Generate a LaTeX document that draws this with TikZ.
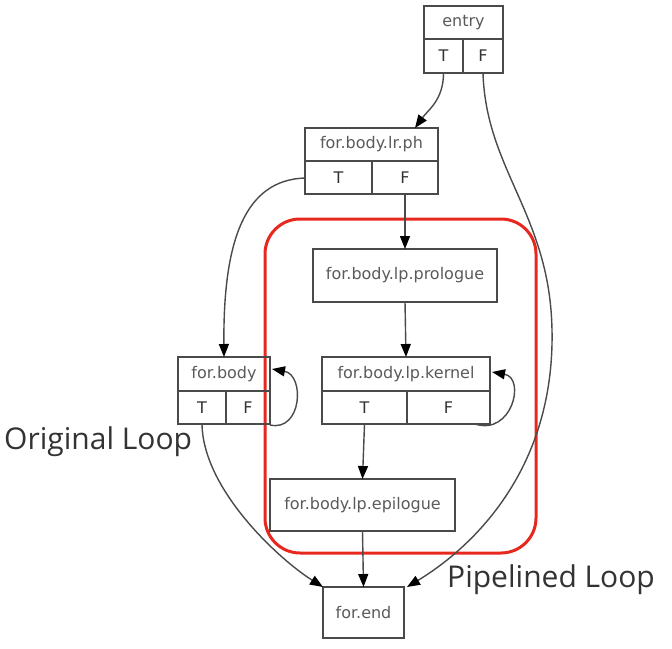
\documentclass[tikz,border=0pt]{standalone}
\usepackage{fontspec}
\setmainfont{DejaVu Sans}
\newfontfamily\labelfont{Open Sans}
\usetikzlibrary{arrows.meta}
\definecolor{boxgray}{HTML}{4A4A4A}
\definecolor{txtgray}{HTML}{5A5A5A}
\definecolor{tfgray}{HTML}{333333}
\definecolor{loopred}{HTML}{E8281E}
\definecolor{lbl}{HTML}{333333}
\begin{document}
\begin{tikzpicture}[x=1pt,y=-1pt,
  cell/.style={draw=boxgray,line width=1.6pt,rectangle,inner sep=0pt,outer sep=0pt,
     font=\fontsize{16}{17}\selectfont,text=txtgray},
  tf/.style={cell,text=tfgray},
  edge/.style={draw=boxgray,line width=1.4pt,-{Triangle[length=13pt,width=10pt,color=black,fill=black]}},
  looplabel/.style={font=\labelfont\fontsize{30}{32}\selectfont,text=lbl,inner sep=0pt,anchor=west}]
\useasboundingbox (0,0) rectangle (672,648);
% red region
\draw[loopred,line width=3pt,rounded corners=35pt] (265,219) rectangle (536,553);
% entry
\node[cell,minimum width=79pt,minimum height=33pt] (entry) at (463.5,22.5) {entry};
\node[tf,minimum width=39pt,minimum height=34pt] (entryT) at (443.5,56) {T};
\node[tf,minimum width=40pt,minimum height=34pt] (entryF) at (483,56) {F};
% for.body.lr.ph
\node[cell,minimum width=133pt,minimum height=33pt] (lrph) at (371.5,144.5) {for.body.lr.ph};
\node[tf,minimum width=67pt,minimum height=33pt] (lrphT) at (338.5,177.5) {T};
\node[tf,minimum width=66pt,minimum height=33pt] (lrphF) at (405,177.5) {F};
% prologue
\node[cell,minimum width=184pt,minimum height=53pt] (pro) at (405,275.5) {for.body.lp.prologue};
% for.body
\node[cell,minimum width=92pt,minimum height=34pt] (body) at (224,374) {for.body};
\node[tf,minimum width=48pt,minimum height=33pt] (bodyT) at (202,407.5) {T};
\node[tf,minimum width=44pt,minimum height=33pt] (bodyF) at (248,407.5) {F};
% kernel
\node[cell,minimum width=168pt,minimum height=34pt] (ker) at (406,374) {for.body.lp.kernel};
\node[tf,minimum width=85pt,minimum height=33pt] (kerT) at (364.5,407.5) {T};
\node[tf,minimum width=83pt,minimum height=33pt] (kerF) at (448.5,407.5) {F};
% epilogue
\node[cell,minimum width=185pt,minimum height=52pt] (epi) at (362.5,505) {for.body.lp.epilogue};
% for.end
\node[cell,minimum width=81pt,minimum height=51pt] (fend) at (363.5,612.5) {for.end};
% anchors for curved edges
\coordinate (eTend) at (415,128);
\coordinate (eFend) at (407,587);
\coordinate (lrTstart) at (305,178);
\coordinate (bTend) at (323,587);
\coordinate (bLoopS) at (270,425);
\coordinate (bLoopE) at (272,369);
\coordinate (kLoopS) at (475,424);
\coordinate (kLoopE) at (492,372);
% edges
\draw[edge] (entryT.south) .. controls (443.5,100) and (428,110) .. (eTend);
\draw[edge] (entryF.south) .. controls (486,170) and (550,215) .. (552,330) .. controls (555,480) and (460,555) .. (eFend);
\draw[edge] (lrTstart) .. controls (245,180) and (223,240) .. (body.north);
\draw[edge] (lrphF.south) -- (pro.north);
\draw[edge] (pro.south) -- (ker.north);
\draw[edge] (kerT.south) -- (epi.north);
\draw[edge] (epi.south) -- (fend.north);
\draw[edge] (bodyT.south) .. controls (203,490) and (280,560) .. (bTend);
\draw[edge] (bLoopS) .. controls (302,432) and (305,375) .. (bLoopE);
\draw[edge] (kLoopS) .. controls (512,436) and (526,378) .. (kLoopE);
% labels
\node[looplabel] (orig) at (4,442) {Original Loop};
\node[looplabel] (pipe) at (447,580) {Pipelined Loop};
\end{tikzpicture}
\end{document}
